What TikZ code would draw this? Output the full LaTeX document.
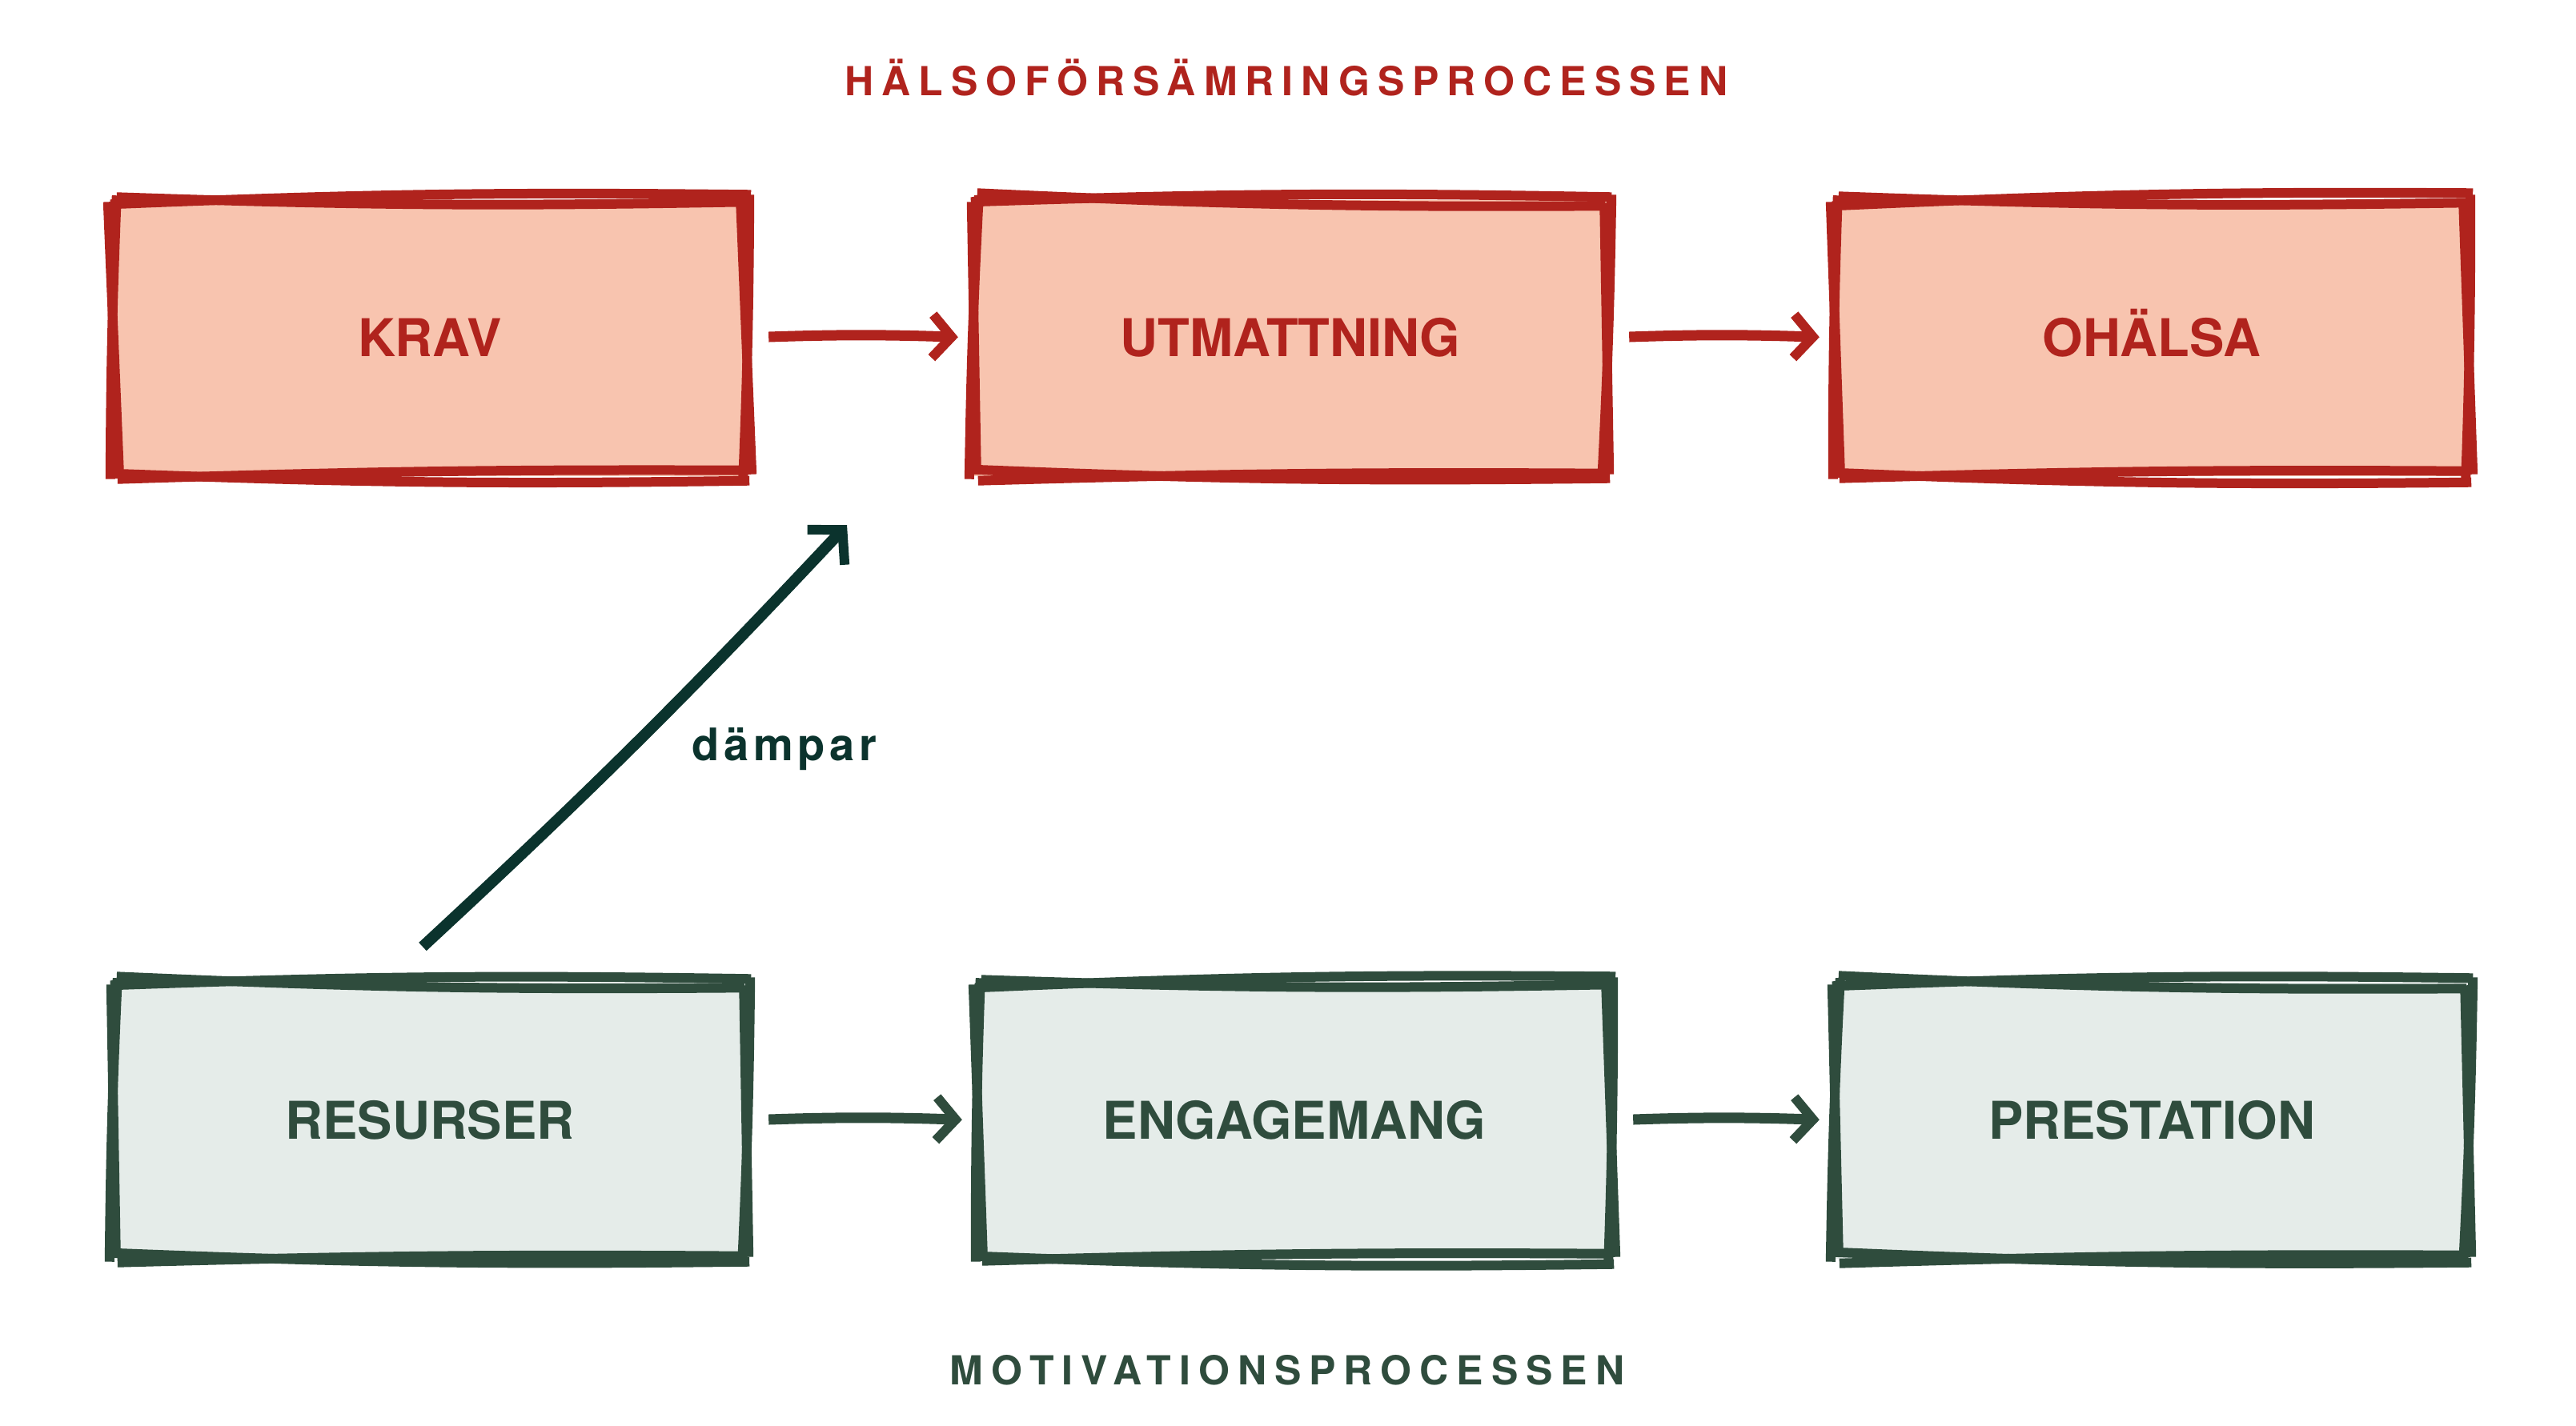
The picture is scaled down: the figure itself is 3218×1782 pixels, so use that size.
\documentclass[tikz,border=0pt]{standalone}
\usepackage{fontspec}
\setmainfont{TeX Gyre Heros}
\newfontfamily\titlefont[LetterSpace=20]{TeX Gyre Heros}
\newfontfamily\labfont[LetterSpace=10]{TeX Gyre Heros}
\usetikzlibrary{arrows.meta,calc}
\definecolor{rstroke}{HTML}{B0231D}
\definecolor{rfill}{HTML}{F8C4AF}
\definecolor{gstroke}{HTML}{2F4C3D}
\definecolor{gfill}{HTML}{E5ECE9}
\definecolor{darkg}{HTML}{0B332D}
\tikzset{
  boxbase/.style={minimum width=790pt, minimum height=345pt, inner sep=0pt,
    text height=47pt, text depth=0pt, font=\bfseries\fontsize{65}{78}\selectfont},
  boxr/.style={boxbase, fill=rfill, text=rstroke},
  boxg/.style={boxbase, fill=gfill, text=gstroke},
  skr/.style={draw=rstroke, line width=12pt},
  skg/.style={draw=gstroke, line width=12pt},
  arr/.style={line width=13pt, -{Straight Barb[length=24pt,width=54pt,line width=12pt]},
    shorten <=28pt, shorten >=20pt},
  titler/.style={font=\titlefont\bfseries\fontsize{50}{60}\selectfont, text=rstroke, anchor=base, inner sep=0pt},
  titleg/.style={font=\titlefont\bfseries\fontsize{50}{60}\selectfont, text=gstroke, anchor=base, inner sep=0pt},
}
% sketchy outline around a node: #1 node, #2 style, #3-#6 jitters
\newcommand{\skrect}[6]{%
  \draw[#2] ($(#1.north west)+(-4,#3)$) to[bend left=1.5] ($(#1.north east)+(6,-#3)$);
  \draw[#2] ($(#1.north west)+(4,-#4)$) to[bend right=1.5] ($(#1.north east)+(-2,#4)$);
  \draw[#2] ($(#1.north east)+(#5,-6)$) to[bend left=1] ($(#1.south east)+(-#5,6)$);
  \draw[#2] ($(#1.north east)+(-#6,4)$) -- ($(#1.south east)+(#6,-2)$);
  \draw[#2] ($(#1.south east)+(4,#3)$) to[bend left=1.5] ($(#1.south west)+(-3,-#4)$);
  \draw[#2] ($(#1.south east)+(-3,-#6)$) to[bend right=1] ($(#1.south west)+(5,#5)$);
  \draw[#2] ($(#1.south west)+(-#5,4)$) to[bend left=1] ($(#1.north west)+(#5,-5)$);
  \draw[#2] ($(#1.south west)+(#6,-6)$) -- ($(#1.north west)+(-#6,3)$);
}
\begin{document}
\begin{tikzpicture}[x=1pt,y=-1pt]
\useasboundingbox (0,0) rectangle (3218,1782);
\fill[white] (0,0) rectangle (3218,1782);

\node[titler] (t1) at (1607,120) {HÄLSOFÖRSÄMRINGSPROCESSEN};
\node[titleg] (t2) at (1608,1730) {MOTIVATIONSPROCESSEN};

\node[boxr] (krav) at (537,422) {KRAV};
\node[boxr] (utm) at (1612,422) {UTMATTNING};
\node[boxr] (oh) at (2688,422) {OHÄLSA};
\node[boxg] (res) at (537,1400) {RESURSER};
\node[boxg] (eng) at (1617,1400) {ENGAGEMANG};
\node[boxg] (pre) at (2688,1400) {PRESTATION};

\skrect{krav}{skr}{6}{3}{4}{7}
\skrect{utm}{skr}{3}{8}{6}{3}
\skrect{oh}{skr}{8}{4}{3}{6}
\skrect{res}{skg}{4}{7}{5}{3}
\skrect{eng}{skg}{7}{3}{3}{6}
\skrect{pre}{skg}{5}{8}{6}{4}

\draw[arr, draw=rstroke] (krav.east) to[bend left=2] (utm.west);
\draw[arr, draw=rstroke] (utm.east) to[bend left=2] (oh.west);
\draw[arr, draw=gstroke] (res.east) to[bend left=2] (eng.west);
\draw[arr, draw=gstroke] (eng.east) to[bend left=2] (pre.west);

\coordinate (d0) at (528,1183);
\coordinate (d1) at (1058,656);
\draw[line width=14pt, draw=darkg, -{Straight Barb[length=30pt,width=64pt,line width=12pt]}]
  (d0) to[bend right=2] (d1);
\node[font=\labfont\bfseries\fontsize{56}{66}\selectfont, text=darkg, anchor=base, inner sep=0pt] (lab) at (980,950) {dämpar};
\end{tikzpicture}
\end{document}
